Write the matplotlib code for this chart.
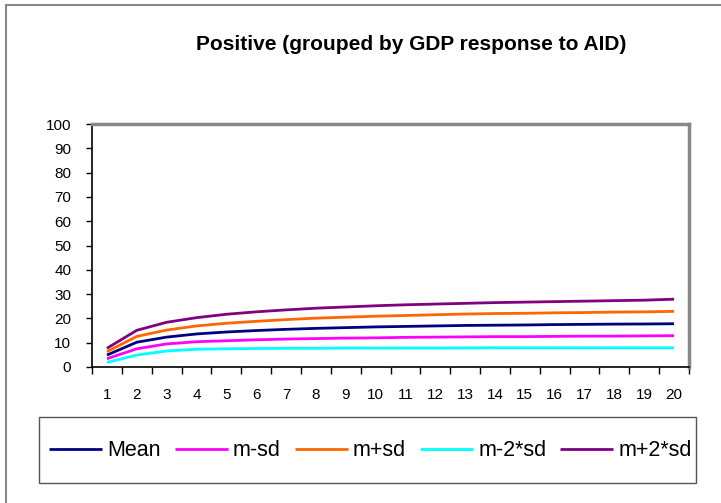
import matplotlib
matplotlib.use("Agg")
import matplotlib.pyplot as plt
from matplotlib.lines import Line2D
from matplotlib.patches import Rectangle

plt.rcParams['font.family'] = ['Liberation Sans', 'DejaVu Sans']

periods = list(range(1, 21))
tick_labels = [str(p) for p in periods]
mean = [4.9, 10.2, 12.3, 13.6, 14.4, 15.0, 15.5, 15.9, 16.2, 16.5,
        16.7, 16.9, 17.1, 17.2, 17.3, 17.45, 17.55, 17.65, 17.7, 17.8]
m_minus_sd = [3.4, 7.5, 9.5, 10.4, 10.8, 11.2, 11.5, 11.7, 11.9, 12.0,
              12.2, 12.3, 12.4, 12.5, 12.5, 12.6, 12.7, 12.7, 12.8, 12.9]
m_plus_sd = [6.3, 12.6, 15.2, 16.9, 18.0, 18.8, 19.5, 20.1, 20.5, 20.9,
             21.2, 21.5, 21.8, 22.0, 22.1, 22.3, 22.4, 22.6, 22.7, 22.9]
m_minus_2sd = [1.9, 4.9, 6.6, 7.3, 7.5, 7.6, 7.7, 7.7, 7.8, 7.8,
               7.8, 7.8, 7.8, 7.9, 7.9, 7.9, 7.9, 7.9, 7.9, 7.9]
m_plus_2sd = [7.7, 15.1, 18.4, 20.3, 21.7, 22.7, 23.5, 24.2, 24.7, 25.2,
              25.6, 25.9, 26.2, 26.5, 26.7, 26.9, 27.1, 27.3, 27.5, 27.9]

series_names = ["Mean", "m-sd", "m+sd", "m-2*sd", "m+2*sd"]
series_values = [mean, m_minus_sd, m_plus_sd, m_minus_2sd, m_plus_2sd]
colors = ["#000080", "#FF00FF", "#FF6600", "#00FFFF", "#800080"]

W, H = 721, 503
fig = plt.figure(figsize=(W / 100, H / 100), dpi=100)

# outer chart border (left and top only visible)
fig.add_artist(Line2D([6 / W, 6 / W], [0, 1 - 5 / H], transform=fig.transFigure,
                      color="#888888", lw=1.5))
fig.add_artist(Line2D([6 / W, 1], [1 - 5 / H, 1 - 5 / H], transform=fig.transFigure,
                      color="#888888", lw=1.5))

L, R, T, B = 92, 689, 124, 367
ax = fig.add_axes([L / W, 1 - B / H, (R - L) / W, (B - T) / H])

handles = []
for name, vals, c in zip(series_names, series_values, colors):
    h, = ax.plot(periods, vals, color=c, lw=2.0, label=name, solid_capstyle='butt')
    handles.append(h)

ax.set_xlim(0.5, 20.5)
ax.set_ylim(0, 100)
ax.set_yticks(range(0, 101, 10))
ax.set_xticks([p + 0.5 for p in [0] + periods])
ax.set_xticklabels([])
ax.set_xticks(periods, minor=True)
ax.set_xticklabels(tick_labels, minor=True)
ax.tick_params(axis='x', which='major', length=5, width=1, color='black', direction='out')
ax.tick_params(axis='x', which='minor', length=0, pad=15, labelsize=11)
ax.tick_params(axis='y', length=4, width=1, direction='out', labelsize=11, pad=11)

for s in ['left', 'bottom']:
    ax.spines[s].set_color('black')
    ax.spines[s].set_linewidth(1.2)
for s in ['top', 'right']:
    ax.spines[s].set_color('#888888')
    ax.spines[s].set_linewidth(2.5)

fig.text(411 / W, 1 - 45 / H, "Positive (grouped by GDP response to AID)",
         ha='center', va='center', fontsize=15, fontweight='bold')

# legend
lx0, ly0, lx1, ly1 = 39, 417, 696, 483
fig.add_artist(Rectangle((lx0 / W, 1 - ly1 / H), (lx1 - lx0) / W, (ly1 - ly0) / H,
                         transform=fig.transFigure, fill=False, edgecolor='#555555', lw=1))
leg = fig.legend(handles, series_names, loc='center',
                 bbox_to_anchor=((lx0 + lx1) / 2 / W + 3 / W, 1 - 451 / H),
                 ncol=5, frameon=False, fontsize=15.5, handlelength=2.45,
                 handletextpad=0.25, columnspacing=0.65, borderpad=0, borderaxespad=0)

fig.savefig("out.png", dpi=100)
